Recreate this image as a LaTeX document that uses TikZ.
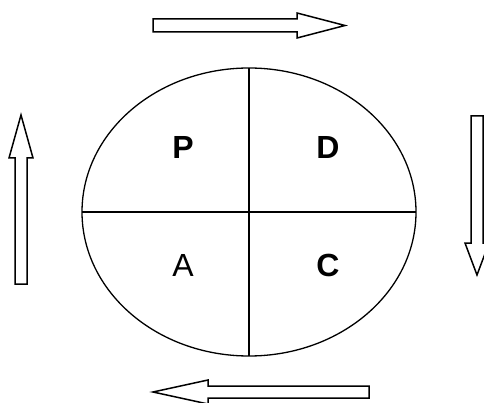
\documentclass[tikz,border=0pt]{standalone}
\usepackage{fontspec}
\setmainfont{Liberation Sans}
\begin{document}
\begin{tikzpicture}[x=1pt,y=-1pt,
  outline/.style={draw=black,line width=1.5pt,line join=miter,fill=white},
  divider/.style={draw=black,line width=1.3pt},
  lbl/.style={font=\fontsize{32}{36}\selectfont,inner sep=0pt,anchor=center}]
\useasboundingbox (0,0) rectangle (484,403);
% ellipse and quadrant lines
\draw[divider] (249,212) ellipse [x radius=167, y radius=144];
\coordinate (top) at (249,68);
\coordinate (bot) at (249,356);
\coordinate (lft) at (82,212);
\coordinate (rgt) at (416,212);
\draw[divider] (top) -- (bot);
\draw[divider] (lft) -- (rgt);
% labels
\node[lbl] (P) at (183,147) {\textbf{P}};
\node[lbl] (D) at (328,147) {\textbf{D}};
\node[lbl] (A) at (183,265) {A};
\node[lbl] (C) at (328,265) {\textbf{C}};
% block arrows
\draw[outline] (153,19) -- (297,19) -- (297,13) -- (345,25.5) -- (297,38) -- (297,32) -- (153,32) -- cycle;
\draw[outline] (471,116) -- (483,116) -- (483,243) -- (489,243) -- (477,275) -- (465,243) -- (471,243) -- cycle;
\draw[outline] (369,386) -- (208,386) -- (208,380) -- (153,392) -- (208,404) -- (208,398) -- (369,398) -- cycle;
\draw[outline] (15,284) -- (15,158) -- (9,158) -- (21,115) -- (33,158) -- (27,158) -- (27,284) -- cycle;
\end{tikzpicture}
\end{document}
